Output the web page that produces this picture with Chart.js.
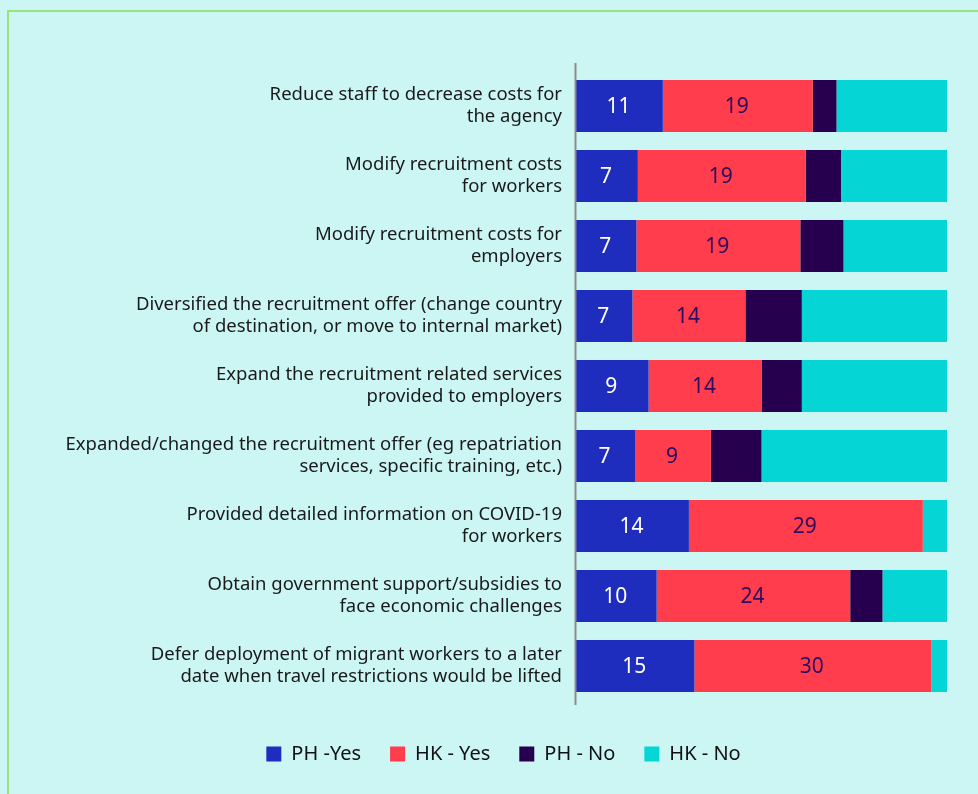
<!DOCTYPE html>
<html>
<head>
<meta charset="utf-8">
<script src="https://cdn.jsdelivr.net/npm/chart.js@4/dist/chart.umd.min.js"></script>
<style>
  html, body { margin: 0; padding: 0; background: #ccf6f4; }
  body { width: 978px; height: 794px; position: relative; overflow: hidden; }
  #frame { position: absolute; left: 7px; top: 10px; width: 1000px; height: 1000px; border: 2px solid #97e37d; box-sizing: border-box; }
  #chart { position: absolute; left: 0; top: 0; }
</style>
</head>
<body>
<div id="frame"></div>
<canvas id="chart" width="978" height="794"></canvas>
<script>
// Data
const categories = [
  ["Reduce staff to decrease costs for", "the agency"],
  ["Modify recruitment costs", "for workers"],
  ["Modify recruitment costs for", "employers"],
  ["Diversified the recruitment offer (change country", "of destination, or move to internal market)"],
  ["Expand the recruitment related services", "provided to employers"],
  ["Expanded/changed the recruitment offer (eg repatriation", "services, specific training, etc.)"],
  ["Provided detailed information on COVID-19", "for workers"],
  ["Obtain government support/subsidies to", "face economic challenges"],
  ["Defer deployment of migrant workers to a later", "date when travel restrictions would be lifted"]
];
const phYes = [11, 7, 7, 7, 9, 7, 14, 10, 15];
const hkYes = [19, 19, 19, 14, 14, 9, 29, 24, 30];
const phNo  = [3, 4, 5, 7, 5, 6, 0, 4, 0];
const hkNo  = [14, 12, 12, 18, 18, 22, 3, 8, 2];

const seriesNames = ["PH -Yes", "HK - Yes", "PH - No", "HK - No"];
const seriesValues = [phYes, hkYes, phNo, hkNo];
const seriesColors = ["#1f2dbf", "#ff3d4d", "#26004f", "#05d5d5"];
const labelColors = ["#ffffff", "#2b0c5e", null, null];

// each row is shown as a share of its total
const totals = categories.map((_, i) => phYes[i] + hkYes[i] + phNo[i] + hkNo[i]);

const datasets = seriesValues.map((vals, k) => ({
  label: seriesNames[k],
  data: vals.map((v, i) => v / totals[i] * 100),
  raw: vals,
  backgroundColor: seriesColors[k],
  borderWidth: 0,
  categoryPercentage: 1,
  barPercentage: 0.743
}));

// value labels on the "Yes" segments
const valueLabels = {
  id: "valueLabels",
  afterDatasetsDraw(chart) {
    const ctx = chart.ctx;
    ctx.save();
    ctx.font = "21px 'Noto Sans'";
    ctx.textAlign = "center";
    ctx.textBaseline = "middle";
    chart.data.datasets.forEach((ds, k) => {
      if (!labelColors[k]) return;
      chart.getDatasetMeta(k).data.forEach((bar, i) => {
        const x = (bar.x + bar.base) / 2;
        ctx.fillStyle = labelColors[k];
        ctx.fillText(ds.raw[i], x - 1, bar.y + 1);
      });
    });
    ctx.restore();
  }
};

// grey axis line on the left, a bit longer than the plot area
const axisLine = {
  id: "axisLine",
  afterDraw(chart) {
    const a = chart.chartArea;
    const ctx = chart.ctx;
    ctx.save();
    ctx.strokeStyle = "#8c8c8c";
    ctx.lineWidth = 2;
    ctx.beginPath();
    ctx.moveTo(a.left - 0.5, a.top - 8);
    ctx.lineTo(a.left - 0.5, a.bottom + 4);
    ctx.stroke();
    ctx.restore();
  }
};

new Chart(document.getElementById("chart").getContext("2d"), {
  type: "bar",
  data: { labels: categories, datasets: datasets },
  options: {
    indexAxis: "y",
    responsive: false,
    animation: false,
    layout: { padding: { left: 60, right: 31, top: 71, bottom: 20 } },
    scales: {
      x: {
        stacked: true,
        min: 0,
        max: 100,
        grid: { display: false },
        border: { display: false },
        ticks: { display: false },
        afterFit(scale) { scale.height = 14; }
      },
      y: {
        stacked: true,
        grid: { display: false },
        border: { display: false },
        ticks: {
          color: "#1a1a1a",
          padding: 6,
          font: { family: "'Noto Sans'", size: 18.5, lineHeight: 1.19 }
        },
        afterFit(scale) { scale.width = 516; }
      }
    },
    plugins: {
      legend: {
        position: "bottom",
        labels: {
          boxWidth: 15,
          boxHeight: 15,
          padding: 29,
          color: "#111111",
          font: { family: "'Noto Sans'", size: 20 }
        }
      },
      tooltip: { enabled: false }
    }
  },
  plugins: [valueLabels, axisLine]
});
</script>
</body>
</html>
